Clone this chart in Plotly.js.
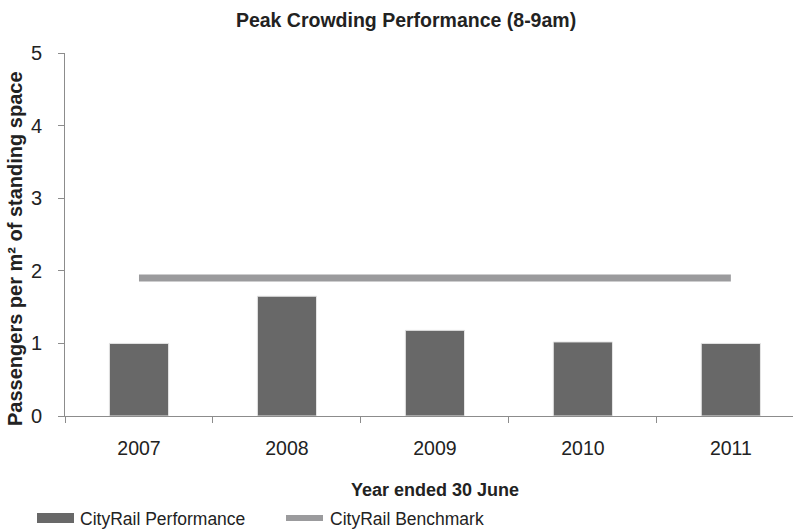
<!DOCTYPE html>
<html>
<head>
<meta charset="utf-8">
<script src="https://cdn.plot.ly/plotly-3.0.1.min.js"></script>
<style>html,body{margin:0;padding:0;background:#fff;}#chart{width:793px;height:530px;}</style>
</head>
<body>
<div id="chart"></div>
<script>
const years = ['2007', '2008', '2009', '2010', '2011'];
const performance = [1.00, 1.65, 1.18, 1.02, 1.00];
const benchmark = [1.9, 1.9, 1.9, 1.9, 1.9];
const yTicks = [0, 1, 2, 3, 4, 5];
const seriesNames = ['CityRail Performance', 'CityRail Benchmark'];

const FONT = 'Liberation Sans, Arial, sans-serif';
const BAR_COLOR = '#686868';
const LINE_COLOR = '#9b9b9d';

const traces = [
  {
    type: 'bar', name: seriesNames[0], x: years, y: performance,
    marker: {color: BAR_COLOR, line: {color: '#e6e6e6', width: 1}},
    width: 0.4
  },
  {
    type: 'scatter', mode: 'lines', name: seriesNames[1], x: years, y: benchmark,
    line: {color: LINE_COLOR, width: 7}
  }
];

// plot area: x 65..793 px, y 53..416 px
const PL = 65, PW = 728, PB = 416, PH = 363;
const px = v => (v - PL) / PW;
const py = v => (PB - v) / PH;

const layout = {
  width: 793, height: 530,
  margin: {l: 65, r: 0, t: 53, b: 114},
  paper_bgcolor: '#fff', plot_bgcolor: '#fff',
  font: {family: FONT, color: '#222', size: 19},
  title: {
    text: '<b>Peak Crowding Performance (8-9am)</b>',
    font: {family: FONT, size: 19.5, color: '#222'},
    xref: 'container', x: 0.512, xanchor: 'center',
    yref: 'container', y: 0.962, yanchor: 'middle'
  },
  showlegend: false,
  xaxis: {
    type: 'category', range: [-0.5, 4.42],
    showline: true, linecolor: '#8c8c8c', linewidth: 1,
    ticks: 'outside', tickson: 'boundaries', ticklen: 6, tickcolor: '#8c8c8c',
    showgrid: false, zeroline: false,
    tickfont: {family: FONT, size: 19.5, color: '#222'},
    ticklabelstandoff: 15
  },
  yaxis: {
    range: [0, 5], tickvals: yTicks,
    showline: true, linecolor: '#8c8c8c', linewidth: 1,
    ticks: 'outside', ticklen: 6, tickcolor: '#8c8c8c',
    showgrid: false, zeroline: false,
    tickfont: {family: FONT, size: 20, color: '#222'},
    ticklabelstandoff: 12
  },
  shapes: [
    {type: 'rect', xref: 'paper', yref: 'paper', x0: px(37), x1: px(74), y0: py(523), y1: py(513),
     fillcolor: BAR_COLOR, line: {width: 0}},
    {type: 'line', xref: 'paper', yref: 'paper', x0: px(286), x1: px(323), y0: py(518), y1: py(518),
     line: {color: LINE_COLOR, width: 6}}
  ],
  annotations: [
    {xref: 'paper', yref: 'paper', x: px(15), y: py(249), xanchor: 'center', yanchor: 'middle',
     textangle: -90, text: '<b>Passengers per m² of standing space</b>', showarrow: false,
     font: {family: FONT, size: 20, color: '#222'}},
    {xref: 'paper', yref: 'paper', x: px(434.5), y: py(490), xanchor: 'center', yanchor: 'middle',
     text: '<b>Year ended 30 June</b>', showarrow: false,
     font: {family: FONT, size: 18, color: '#222'}},
    {xref: 'paper', yref: 'paper', x: px(78), y: py(519), xanchor: 'left', yanchor: 'middle',
     text: seriesNames[0], showarrow: false, font: {family: FONT, size: 17.5, color: '#222'}},
    {xref: 'paper', yref: 'paper', x: px(328), y: py(519), xanchor: 'left', yanchor: 'middle',
     text: seriesNames[1], showarrow: false, font: {family: FONT, size: 17.5, color: '#222'}}
  ]
};

Plotly.newPlot('chart', traces, layout, {displayModeBar: false, staticPlot: true});
</script>
</body>
</html>
